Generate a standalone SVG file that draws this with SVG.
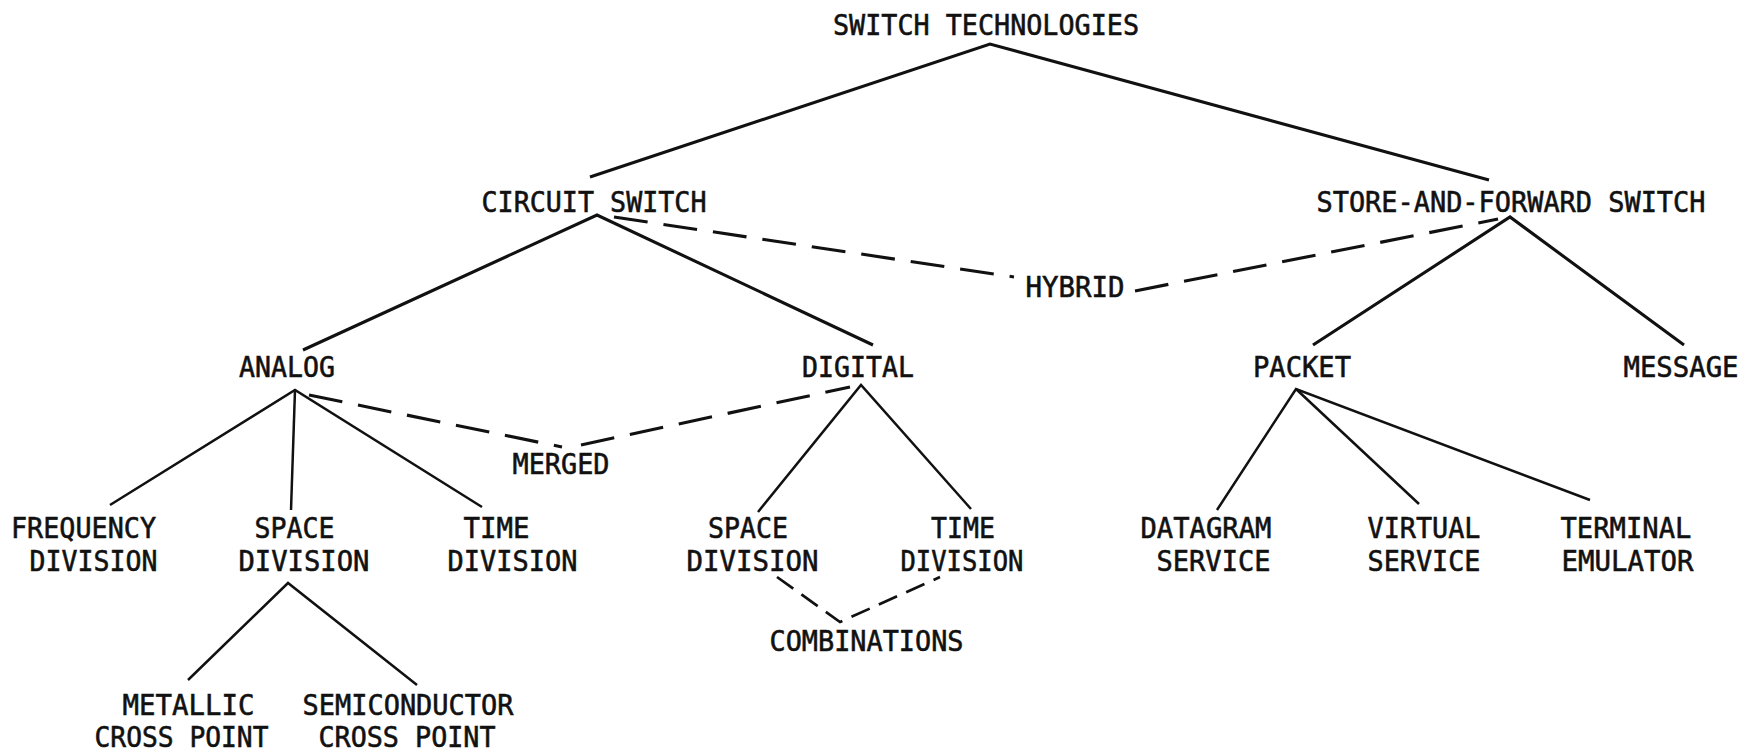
<svg xmlns="http://www.w3.org/2000/svg" width="1754" height="754" viewBox="0 0 1754 754">
<style>
.t{font-family:"DejaVu Sans Mono","Liberation Mono",monospace;font-size:29px;fill:#111;stroke:#111;stroke-width:0.6;text-anchor:middle}
.s{fill:none;stroke:#111;stroke-width:2.5;stroke-linejoin:miter;stroke-linecap:butt}
.s3{stroke-width:3.1}
.d{fill:none;stroke:#111;stroke-width:3.1;stroke-dasharray:34 16}
.d2{fill:none;stroke:#111;stroke-width:2.7;stroke-dasharray:20 10}
</style>
<rect width="1754" height="754" fill="#fff"/>
<g id="connectors">
<polyline class="s s3" points="590,177 990,44 1489,180"/>
<polyline class="s s3" points="303,350 597,215 873,345"/>
<polyline class="s s3" points="1313,345 1510,217 1684,345"/>
<polyline class="s" points="110,505 295,390 482,507"/>
<polyline class="s" points="291,510 295,390"/>
<polyline class="s" points="758,512 861,385 971,509"/>
<polyline class="s" points="188,680 288,583 417,685"/>
<polyline class="s" points="1217,510 1296,389 1590,500"/>
<polyline class="s" points="1419,504 1296,389"/>
<line class="d" x1="614" y1="217" x2="1014" y2="277"/>
<line class="d" x1="1135" y1="291" x2="1498" y2="219"/>
<line class="d" x1="309" y1="395" x2="562" y2="447"/>
<line class="d" x1="581" y1="445" x2="850" y2="387"/>
<polyline class="d2" points="777,577 840,622 940,577"/>
</g>
<g id="n-switch-technologies"><text class="t" x="986" y="35" textLength="306" lengthAdjust="spacingAndGlyphs">SWITCH TECHNOLOGIES</text></g>
<g id="n-circuit-switch"><text class="t" x="594" y="212" textLength="225" lengthAdjust="spacingAndGlyphs">CIRCUIT SWITCH</text></g>
<g id="n-store-and-forward"><text class="t" x="1511" y="212" textLength="389" lengthAdjust="spacingAndGlyphs">STORE-AND-FORWARD SWITCH</text></g>
<g id="n-hybrid"><text class="t" x="1075" y="297" textLength="99" lengthAdjust="spacingAndGlyphs">HYBRID</text></g>
<g id="n-analog"><text class="t" x="287" y="377" textLength="96" lengthAdjust="spacingAndGlyphs">ANALOG</text></g>
<g id="n-digital"><text class="t" x="858" y="377" textLength="112" lengthAdjust="spacingAndGlyphs">DIGITAL</text></g>
<g id="n-packet"><text class="t" x="1302" y="377" textLength="98" lengthAdjust="spacingAndGlyphs">PACKET</text></g>
<g id="n-message"><text class="t" x="1681" y="377" textLength="115" lengthAdjust="spacingAndGlyphs">MESSAGE</text></g>
<g id="n-merged"><text class="t" x="561" y="474" textLength="97" lengthAdjust="spacingAndGlyphs">MERGED</text></g>
<g id="n-frequency-division">
<text class="t" x="83.5" y="538" textLength="145" lengthAdjust="spacingAndGlyphs">FREQUENCY</text>
<text class="t" x="93.5" y="571" textLength="128" lengthAdjust="spacingAndGlyphs">DIVISION</text>
</g>
<g id="n-analog-space-division">
<text class="t" x="294.5" y="538" textLength="80" lengthAdjust="spacingAndGlyphs">SPACE</text>
<text class="t" x="304" y="571" textLength="131" lengthAdjust="spacingAndGlyphs">DIVISION</text>
</g>
<g id="n-analog-time-division">
<text class="t" x="496.5" y="538" textLength="66" lengthAdjust="spacingAndGlyphs">TIME</text>
<text class="t" x="512.5" y="571" textLength="130" lengthAdjust="spacingAndGlyphs">DIVISION</text>
</g>
<g id="n-digital-space-division">
<text class="t" x="748" y="538" textLength="80" lengthAdjust="spacingAndGlyphs">SPACE</text>
<text class="t" x="752.5" y="571" textLength="132" lengthAdjust="spacingAndGlyphs">DIVISION</text>
</g>
<g id="n-digital-time-division">
<text class="t" x="963" y="538" textLength="64" lengthAdjust="spacingAndGlyphs">TIME</text>
<text class="t" x="962" y="571" textLength="123" lengthAdjust="spacingAndGlyphs">DIVISION</text>
</g>
<g id="n-combinations"><text class="t" x="866.5" y="651" textLength="194" lengthAdjust="spacingAndGlyphs">COMBINATIONS</text></g>
<g id="n-metallic">
<text class="t" x="188.5" y="715" textLength="132" lengthAdjust="spacingAndGlyphs">METALLIC</text>
<text class="t" x="181.5" y="747" textLength="174" lengthAdjust="spacingAndGlyphs">CROSS POINT</text>
</g>
<g id="n-semiconductor">
<text class="t" x="408" y="715" textLength="211" lengthAdjust="spacingAndGlyphs">SEMICONDUCTOR</text>
<text class="t" x="407" y="747" textLength="177" lengthAdjust="spacingAndGlyphs">CROSS POINT</text>
</g>
<g id="n-datagram">
<text class="t" x="1206" y="538" textLength="131" lengthAdjust="spacingAndGlyphs">DATAGRAM</text>
<text class="t" x="1213.5" y="571" textLength="114" lengthAdjust="spacingAndGlyphs">SERVICE</text>
</g>
<g id="n-virtual">
<text class="t" x="1424" y="538" textLength="113" lengthAdjust="spacingAndGlyphs">VIRTUAL</text>
<text class="t" x="1424" y="571" textLength="113" lengthAdjust="spacingAndGlyphs">SERVICE</text>
</g>
<g id="n-terminal">
<text class="t" x="1626" y="538" textLength="131" lengthAdjust="spacingAndGlyphs">TERMINAL</text>
<text class="t" x="1627.5" y="571" textLength="132" lengthAdjust="spacingAndGlyphs">EMULATOR</text>
</g>
</svg>
